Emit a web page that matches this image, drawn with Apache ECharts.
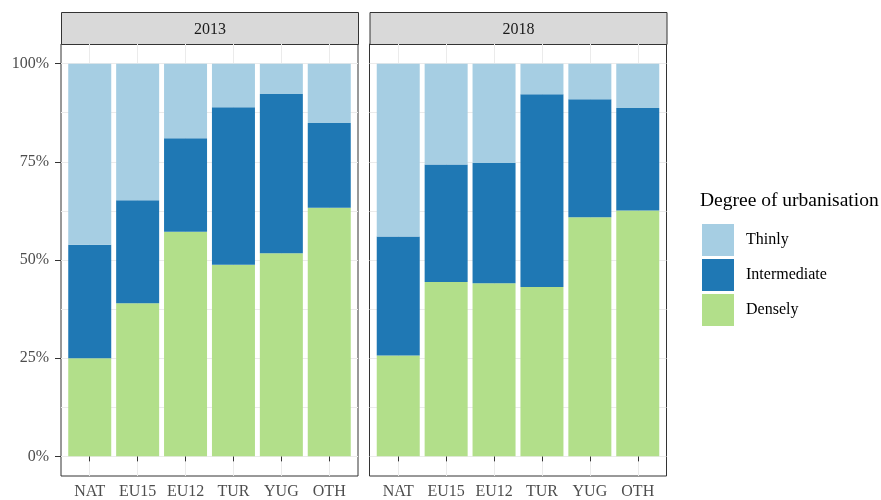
<!DOCTYPE html>
<html>
<head>
<meta charset="utf-8">
<script src="https://cdn.jsdelivr.net/npm/echarts@6/dist/echarts.min.js"></script>
<style>
  html, body { margin: 0; padding: 0; background: #fff; }
  #chart { width: 881px; height: 500px; }
</style>
</head>
<body>
<div id="chart"></div>
<script>
// Share of each group by degree of urbanisation, in percent
const categories = ['NAT', 'EU15', 'EU12', 'TUR', 'YUG', 'OTH'];
const years = ['2013', '2018'];
const densely2013 = [25.0, 39.0, 57.2, 48.8, 51.7, 63.3];
const intermediate2013 = [28.9, 26.2, 23.8, 40.1, 40.6, 21.6];
const thinly2013 = [46.1, 34.8, 19.0, 11.1, 7.7, 15.1];
const densely2018 = [25.7, 44.4, 44.1, 43.1, 60.9, 62.6];
const intermediate2018 = [30.3, 29.9, 30.6, 49.1, 30.0, 26.1];
const thinly2018 = [44.0, 25.7, 25.3, 7.8, 9.1, 11.3];
const yTicks = [0, 25, 50, 75, 100];
const yGridValues = [0, 12.5, 25, 37.5, 50, 62.5, 75, 87.5, 100];
const legendTitle = 'Degree of urbanisation';

const FONT = '"Liberation Serif", "DejaVu Serif", serif';
const COLORS = { Thinly: '#A6CEE3', Intermediate: '#1F78B4', Densely: '#B2DF8A' };
const GRID_LINE = '#EBEBEB';
const DARK = '#333333';

const panels = [
  { year: years[0], left: 61, densely: densely2013, intermediate: intermediate2013, thinly: thinly2013 },
  { year: years[1], left: 369.5, densely: densely2018, intermediate: intermediate2018, thinly: thinly2018 }
];
const PANEL_TOP = 44, PANEL_H = 434, PANEL_W = 297, STRIP_H = 32;
const catPositions = categories.map((_, i) => i + 1);

const grids = [], xAxes = [], yAxes = [], series = [], graphics = [];

panels.forEach((p, gi) => {
  grids.push({
    left: p.left, top: PANEL_TOP, width: PANEL_W, height: PANEL_H,
    show: true, backgroundColor: '#fff', borderColor: DARK, borderWidth: 1, z: 0
  });
  xAxes.push({
    type: 'value', gridIndex: gi, min: 0.4, max: 6.6,
    axisLine: { show: false },
    axisTick: { show: true, customValues: catPositions, length: 5, lineStyle: { color: DARK, width: 1 } },
    axisLabel: {
      customValues: catPositions, margin: 8, color: '#4D4D4D', fontFamily: FONT, fontSize: 16,
      formatter: v => categories[Math.round(v) - 1]
    },
    splitLine: { show: true, lineStyle: { color: GRID_LINE, width: 1 } }
  });
  // primary y axis: ticks and labels at the major values
  yAxes.push({
    type: 'value', gridIndex: gi, min: -5, max: 105, position: 'left',
    axisLine: { show: false },
    axisTick: { show: gi === 0, customValues: yTicks, length: 6, lineStyle: { color: DARK, width: 1 } },
    axisLabel: {
      show: gi === 0, customValues: yTicks, margin: 12, color: '#4D4D4D',
      fontFamily: FONT, fontSize: 16, formatter: v => v + '%'
    },
    splitLine: { show: false }
  });
  // secondary y axis: only carries the major and minor grid lines
  yAxes.push({
    type: 'value', gridIndex: gi, min: -5, max: 105, position: 'right',
    axisLine: { show: false },
    axisTick: { show: false, customValues: yGridValues },
    axisLabel: { show: false },
    splitLine: { show: true, lineStyle: { color: GRID_LINE, width: 1 } }
  });

  const stackName = 'stack' + p.year;
  [['Densely', p.densely], ['Intermediate', p.intermediate], ['Thinly', p.thinly]].forEach(([name, vals]) => {
    series.push({
      name, type: 'bar', stack: stackName,
      xAxisIndex: gi, yAxisIndex: gi * 2,
      barWidth: 43,
      itemStyle: { color: COLORS[name] },
      emphasis: { disabled: true },
      // share first so that it is the stacked dimension, position second
      dimensions: ['share', 'pos'],
      encode: { x: 'pos', y: 'share' },
      data: vals.map((v, i) => [v, catPositions[i]])
    });
  });

  // facet strip above the panel
  graphics.push({
    type: 'group', left: p.left, top: PANEL_TOP - STRIP_H,
    children: [
      { type: 'rect', shape: { x: 0, y: 0, width: PANEL_W, height: STRIP_H },
        style: { fill: '#D9D9D9', stroke: DARK, lineWidth: 1 } },
      { type: 'text', style: {
          x: PANEL_W / 2, y: STRIP_H / 2 + 1, text: p.year, align: 'center', verticalAlign: 'middle',
          font: '16px ' + FONT, fill: '#1A1A1A' } }
    ]
  });
});

graphics.push({
  type: 'text', left: 700, top: 191,
  style: { text: legendTitle, font: '19.5px ' + FONT, fill: '#000' }
});

const chart = echarts.init(document.getElementById('chart'), null, { renderer: 'canvas' });
chart.setOption({
  animation: false,
  backgroundColor: '#fff',
  grid: grids,
  xAxis: xAxes,
  yAxis: yAxes,
  legend: {
    data: ['Thinly', 'Intermediate', 'Densely'],
    orient: 'vertical', left: 702, top: 224, padding: 0,
    itemWidth: 32, itemHeight: 32, itemGap: 3,
    icon: 'rect', selectedMode: false,
    textStyle: { fontFamily: FONT, fontSize: 16, color: '#000', padding: [0, 0, 0, 7] }
  },
  graphic: graphics,
  series
});
</script>
</body>
</html>
